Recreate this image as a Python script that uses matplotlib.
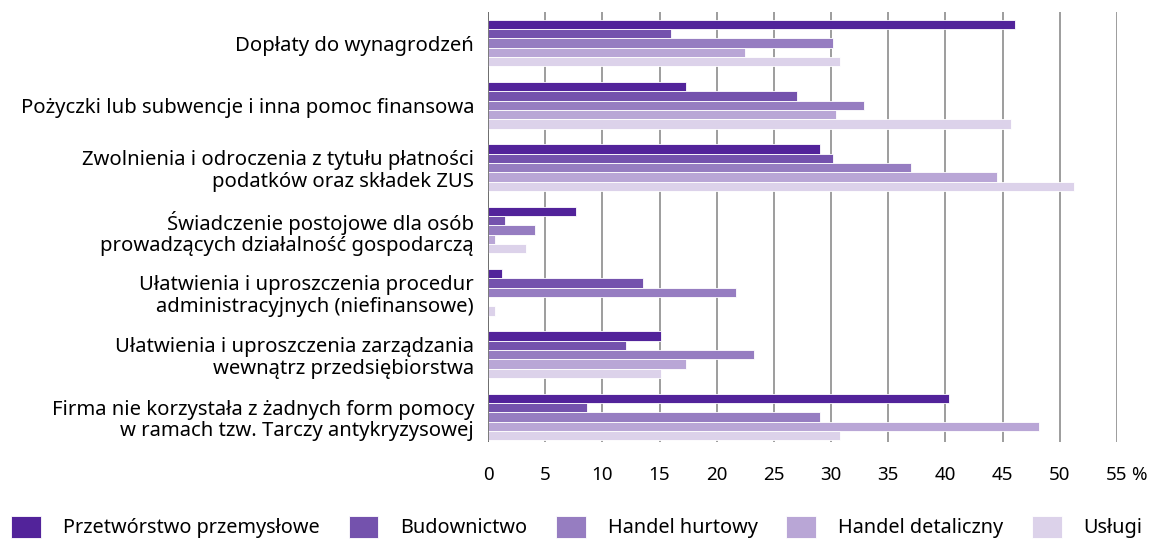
import matplotlib
matplotlib.use("Agg")
import matplotlib.pyplot as plt
import numpy as np

plt.rcParams['font.family'] = ['Noto Sans', 'DejaVu Sans']

categories = [
    "Dopłaty do wynagrodzeń",
    "Pożyczki lub subwencje i inna pomoc finansowa",
    "Zwolnienia i odroczenia z tytułu płatności\npodatków oraz składek ZUS",
    "Świadczenie postojowe dla osób\nprowadzących działalność gospodarczą",
    "Ułatwienia i uproszczenia procedur\nadministracyjnych (niefinansowe)",
    "Ułatwienia i uproszczenia zarządzania\nwewnątrz przedsiębiorstwa",
    "Firma nie korzystała z żadnych form pomocy\nw ramach tzw. Tarczy antykryzysowej",
]
series_names = ["Przetwórstwo przemysłowe", "Budownictwo", "Handel hurtowy",
                "Handel detaliczny", "Usługi"]
przetworstwo = [46.1, 17.3, 29.0, 7.7, 1.2, 15.1, 40.3]
budownictwo = [16.0, 27.0, 30.2, 1.5, 13.6, 12.1, 8.7]
hurtowy = [30.2, 32.9, 37.0, 4.1, 21.7, 23.3, 29.0]
detaliczny = [22.5, 30.4, 44.5, 0.6, 0.0, 17.3, 48.2]
uslugi = [30.8, 45.7, 51.2, 3.3, 0.6, 15.1, 30.8]
xticks = list(range(0, 56, 5))
xtick_labels = [str(t) for t in xticks]

colors = ["#52239a", "#7452ad", "#967dc1", "#b9a6d6", "#dcd2ea"]
all_series = [przetworstwo, budownictwo, hurtowy, detaliczny, uslugi]

fig = plt.figure(figsize=(11.5, 5.42), dpi=100)
ax = fig.add_axes([0.4243, 0.1845, 0.547, 0.7935])

y = np.arange(len(categories))
h = 0.15
for i, (vals, c, name) in enumerate(zip(all_series, colors, series_names)):
    ax.barh(y - 2 * h + i * h, vals, height=h, color=c, edgecolor="white",
            linewidth=0.6, label=name, zorder=3)

ax.set_xlim(0, 55)
ax.set_ylim(6.4, -0.5)
ax.set_xticks(xticks)
ax.set_xticklabels(xtick_labels, fontsize=13.5)
ax.set_yticks(y)
ax.set_yticklabels(categories, fontsize=14.6, linespacing=1.12)
ax.tick_params(axis="y", length=0, pad=10)
ax.tick_params(axis="x", length=0, pad=17)
# percent sign after the last tick label
ax.annotate("%", xy=(55, 0), xycoords=("data", "axes fraction"),
            xytext=(10.5, -17), textcoords="offset points", ha="left", va="top",
            fontsize=13.5)
ax.grid(axis="x", color="#8c8c8c", linewidth=1.2, zorder=0)
for s in ax.spines.values():
    s.set_visible(False)
ax.axvline(0, color="#666666", linewidth=1.2, zorder=4)

fig.legend(loc="lower left", bbox_to_anchor=(0.003, -0.008), ncol=5, frameon=False,
           fontsize=14.3, handlelength=1.5, handleheight=1.3, handletextpad=1.1,
           columnspacing=1.45, borderaxespad=0)

fig.savefig("out.png", dpi=100)
